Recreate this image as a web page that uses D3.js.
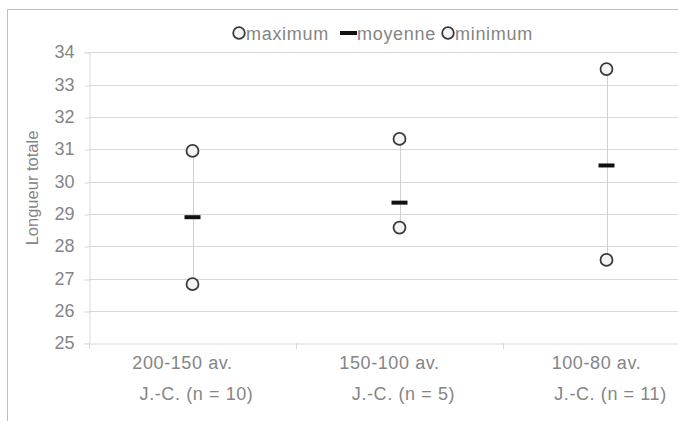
<!DOCTYPE html>
<html>
<head>
<meta charset="utf-8">
<script src="https://cdn.jsdelivr.net/npm/d3@7"></script>
<style>
  html, body { margin: 0; padding: 0; background: #fff; overflow: hidden; }
  svg { display: block; font-family: "Liberation Sans", Arial, sans-serif; }
</style>
</head>
<body>
<svg id="chart" width="678" height="421"></svg>
<script>
const categories = ["200-150 av. J.-C. (n = 10)", "150-100 av. J.-C. (n = 5)", "100-80 av. J.-C. (n = 11)"];
const labelLine1 = ["200-150 av.", "150-100 av.", "100-80 av."];
const labelLine2 = ["J.-C. (n = 10)", "J.-C. (n = 5)", "J.-C. (n = 11)"];
const maxVals = [30.95, 31.32, 33.48];
const meanVals = [28.9, 29.35, 30.5];
const minVals = [26.83, 28.58, 27.58];
const yTicks = [25, 26, 27, 28, 29, 30, 31, 32, 33, 34];
const legendItems = ["maximum", "moyenne", "minimum"];
const yTitle = "Longueur totale";

const svg = d3.select("#chart");
const textColor = "#858585";
const gridColor = "#d9d9d9";

// outer chart border (cropped on right and bottom)
svg.append("path")
  .attr("d", "M7.5,430 L7.5,9.5 L690,9.5")
  .attr("fill", "none").attr("stroke", "#bdbdbd").attr("stroke-width", 1);

const x = d3.scaleBand().domain(categories).range([89, 710]);
const y = d3.scaleLinear().domain([25, 34]).range([343.3, 52.3]);

// gridlines
svg.append("g").selectAll("line").data(yTicks.filter(t => t !== 25)).join("line")
  .attr("x1", 89).attr("x2", 710)
  .attr("y1", d => Math.round(y(d)) + 0.5).attr("y2", d => Math.round(y(d)) + 0.5)
  .attr("stroke", gridColor).attr("stroke-width", 1);

// y axis
const yAxis = svg.append("g").attr("transform", "translate(89.5,0)")
  .call(d3.axisLeft(y).tickValues(yTicks).tickSize(5).tickPadding(10).tickFormat(d3.format("d")));
yAxis.selectAll("line").attr("stroke", gridColor).attr("transform", function(d){ return "translate(0," + (Math.round(y(d)) + 0.5 - y(d)) + ")"; });
yAxis.select(".domain").attr("stroke", gridColor);
yAxis.selectAll("text").attr("fill", textColor).style("font-size", "18px")
  .attr("dy", "0.3em");

// x axis
const xAxis = svg.append("g").attr("transform", "translate(0," + (Math.round(y(25)) + 0.5) + ")")
  .call(d3.axisBottom(x).tickSize(0).tickFormat(""));
xAxis.select(".domain").attr("stroke", gridColor);
xAxis.selectAll(".tick").remove();
// category boundary ticks
const bounds = categories.map(c => x(c)).concat([x(categories[2]) + x.bandwidth()]);
svg.append("g").selectAll("line").data(bounds).join("line")
  .attr("x1", d => Math.round(d) + 0.5).attr("x2", d => Math.round(d) + 0.5)
  .attr("y1", Math.round(y(25))).attr("y2", Math.round(y(25)) + 6)
  .attr("stroke", gridColor);

// x labels
const xl = svg.append("g");
categories.forEach((c, i) => {
  const cx = x(c) + x.bandwidth() / 2;
  xl.append("text").attr("x", cx - 10).attr("y", 369).attr("text-anchor", "middle")
    .attr("fill", textColor).style("font-size", "18px").style("letter-spacing", "0.6px")
    .text(labelLine1[i]);
  xl.append("text").attr("x", cx + 4).attr("y", 400).attr("text-anchor", "middle")
    .attr("fill", textColor).style("font-size", "18px").style("letter-spacing", "0.6px")
    .text(labelLine2[i]);
});

// y title
svg.append("text")
  .attr("transform", "translate(38,188) rotate(-90)")
  .attr("text-anchor", "middle").attr("fill", textColor)
  .style("font-size", "16.5px").text(yTitle);

// high-low lines
svg.append("g").selectAll("line").data(categories).join("line")
  .attr("x1", d => Math.round(x(d) + x.bandwidth() / 2) + 0.5)
  .attr("x2", d => Math.round(x(d) + x.bandwidth() / 2) + 0.5)
  .attr("y1", (d, i) => y(maxVals[i])).attr("y2", (d, i) => y(minVals[i]))
  .attr("stroke", "#cfcfcf").attr("stroke-width", 1);

// mean markers
svg.append("g").selectAll("rect").data(categories).join("rect")
  .attr("x", d => x(d) + x.bandwidth() / 2 - 8)
  .attr("y", (d, i) => y(meanVals[i]) - 2)
  .attr("width", 16).attr("height", 4).attr("fill", "#111");

// max and min circles
function circles(vals) {
  svg.append("g").selectAll("circle").data(categories).join("circle")
    .attr("cx", d => x(d) + x.bandwidth() / 2)
    .attr("cy", (d, i) => y(vals[i]))
    .attr("r", 6)
    .attr("fill", "#f4f4f4").attr("stroke", "#3a3a3a").attr("stroke-width", 1.8);
}
circles(maxVals);
circles(minVals);

// legend
const lg = svg.append("g");
const legendX = [239, 348, 448];
const legendTextX = [246, 357, 455];
legendItems.forEach((name, i) => {
  if (i === 1) {
    lg.append("rect").attr("x", 340).attr("y", 31).attr("width", 17).attr("height", 4).attr("fill", "#111");
  } else {
    lg.append("circle").attr("cx", legendX[i]).attr("cy", 33).attr("r", 5.8)
      .attr("fill", "#f4f4f4").attr("stroke", "#3a3a3a").attr("stroke-width", 1.8);
  }
  lg.append("text").attr("x", legendTextX[i]).attr("y", 39.5).attr("fill", textColor)
    .style("font-size", "18px").style("letter-spacing", "0.7px").text(name);
});
</script>
</body>
</html>
